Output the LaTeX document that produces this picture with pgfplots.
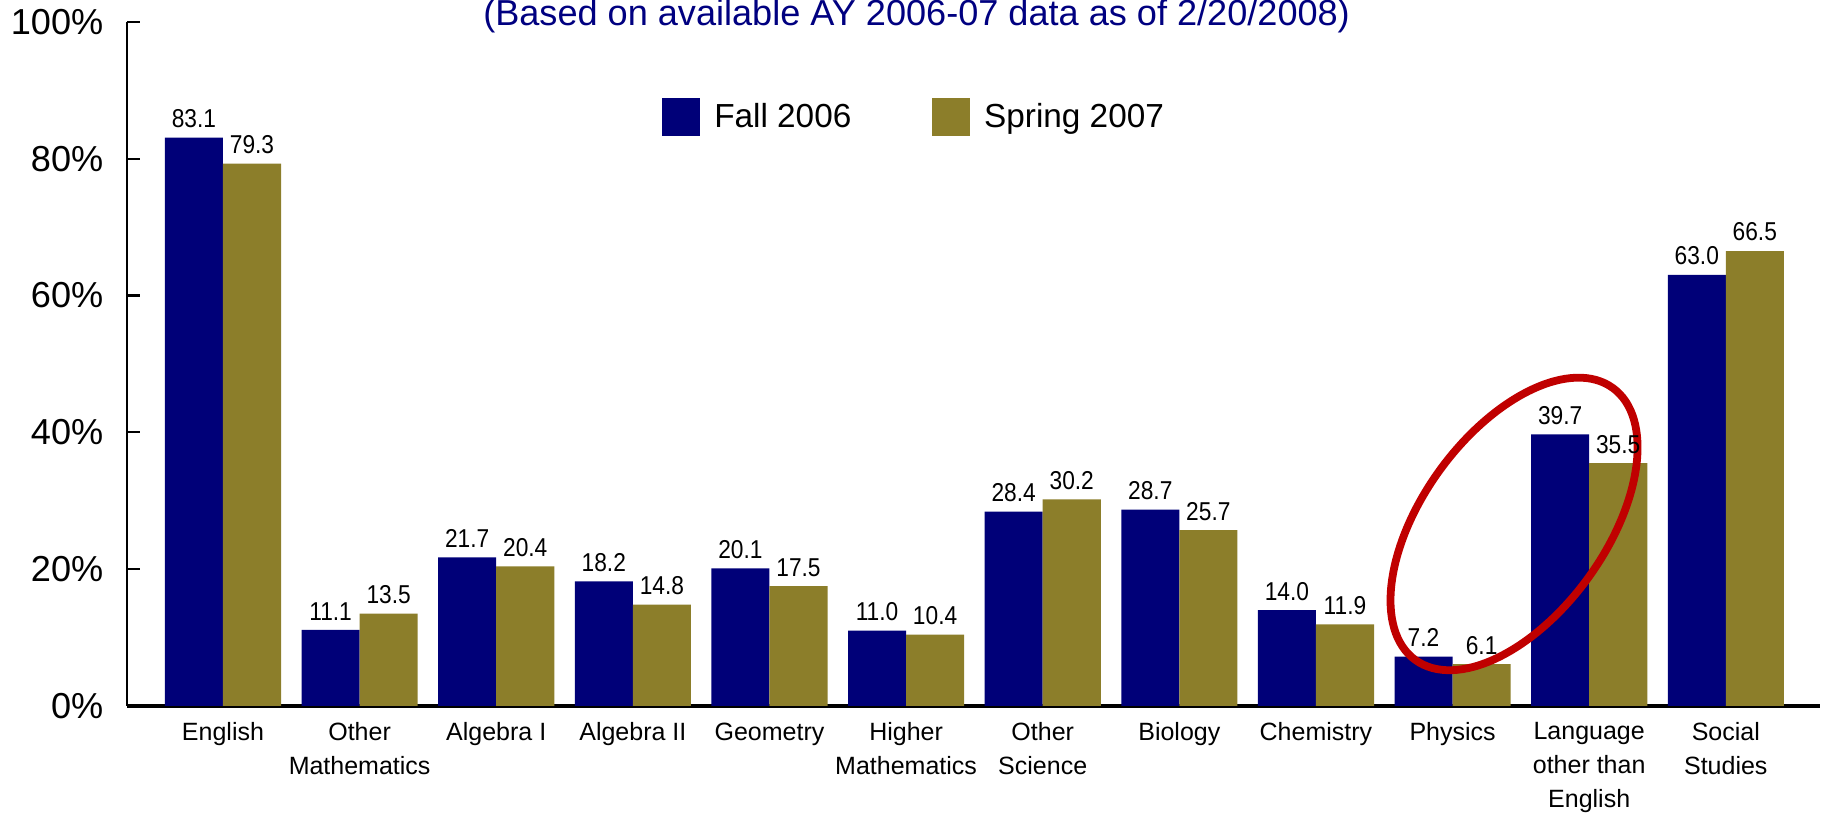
\documentclass[border=0pt]{standalone}
\usepackage{fontspec}
\setmainfont{Liberation Sans}
\newfontfamily\narrowfont{Liberation Sans}[FakeStretch=0.88]
\usepackage{pgfplots}
\usepackage{pgfplotstable}
\pgfplotsset{compat=1.18}
\usetikzlibrary{shapes.geometric}
\definecolor{fallblue}{RGB}{0,0,120}
\definecolor{springolive}{RGB}{140,126,42}
\definecolor{titleblue}{RGB}{0,0,128}
\definecolor{ellred}{RGB}{192,0,0}

\pgfplotstableread{
x fall spring
0 83.1 79.3
1 11.1 13.5
2 21.7 20.4
3 18.2 14.8
4 20.1 17.5
5 11.0 10.4
6 28.4 30.2
7 28.7 25.7
8 14.0 11.9
9 7.2 6.1
10 39.7 35.5
11 63.0 66.5
}\datatable

\begin{document}
\begin{tikzpicture}
\begin{axis}[
  scale only axis, width=609.5pt, height=246.2pt,
  ybar=0pt, bar width=20.9pt,
  xmin=-0.703, xmax=11.69, ymin=0, ymax=100,
  axis lines*=left,
  x axis line style={line width=1.4pt},
  y axis line style={line width=0.8pt},
  xtick={0,...,11},
  xticklabels={English,{Other\\Mathematics},Algebra I,Algebra II,Geometry,{Higher\\Mathematics},{Other\\Science},Biology,Chemistry,Physics,{Language\\other than\\English},{Social\\Studies}},
  xtick style={draw=none},
  ytick={0,20,...,100},
  yticklabel={\pgfmathprintnumber{\tick}\%},
  tick align=inside, major tick length=4.7pt,
  ytick style={line width=0.8pt, black},
  yticklabel style={font=\fontsize{13}{15}\selectfont, xshift=-5pt},
  xticklabel style={font=\fontsize{9}{12.2}\selectfont, align=center, yshift=-2.5pt},
  /pgf/number format/assume math mode=true,
  nodes near coords={\pgfmathprintnumber[fixed,fixed zerofill,precision=1]{\pgfplotspointmeta}},
  every node near coord/.append style={font=\narrowfont\fontsize{9.3}{10}\selectfont, text=black},
  clip=false,
  legend columns=2,
  legend style={draw=none, fill=none, at={(rel axis cs:0.3157,0.861)}, anchor=west,
    inner sep=0pt, font=\fontsize{12}{14}\selectfont,
    /tikz/every even column/.append style={column sep=27pt}},
  legend cell align=left,
  legend image code/.code={\fill[#1] (0pt,-6.9pt) rectangle (13.8pt,6.9pt); \path (16.8pt,0pt);},
]
\addplot[fill=fallblue, draw=none] table[x=x, y=fall] {\datatable};
\addlegendentry{Fall 2006}
\addplot[fill=springolive, draw=none] table[x=x, y=spring] {\datatable};
\addlegendentry{Spring 2007}
\node[draw=ellred, line width=2.8pt, ellipse, minimum width=121pt, minimum height=66pt, inner sep=0pt, rotate=54] at (axis cs:9.45,26.6) {};
\node[anchor=base, font=\fontsize{13}{15}\selectfont, text=titleblue] at (rel axis cs:0.4664,0.995) {(Based on available AY 2006-07 data as of 2/20/2008)};
\coordinate (bl) at (rel axis cs:0,0);
\coordinate (tr) at (rel axis cs:1,1);
\end{axis}
\pgfresetboundingbox
\path[use as bounding box] ([xshift=-45.7pt,yshift=-38.5pt]bl) rectangle ([xshift=2.5pt,yshift=7.9pt]tr);
\end{tikzpicture}
\end{document}
